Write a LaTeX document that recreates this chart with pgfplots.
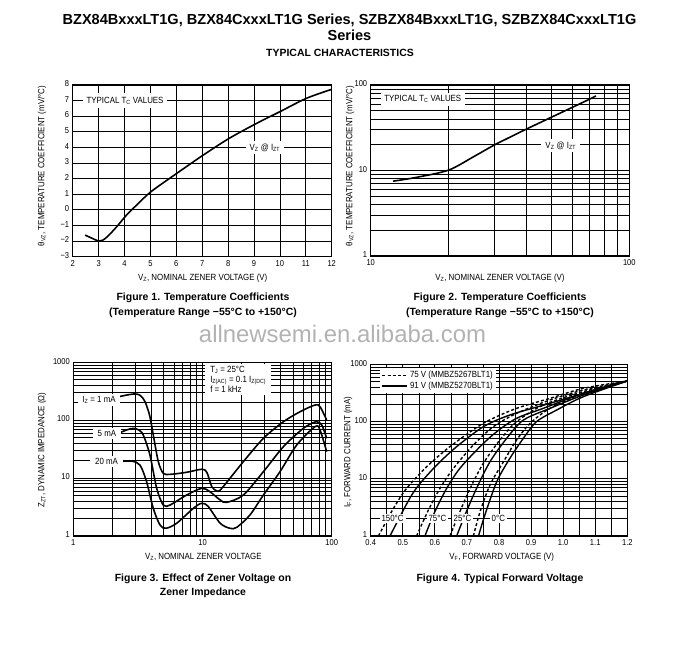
\documentclass[border=0pt]{standalone}
\usepackage{fontspec}
\setmainfont{Liberation Sans}
\newfontfamily\cf[FakeStretch=0.88]{Liberation Sans}
\usepackage{pgfplots}
\pgfplotsset{compat=1.18}
\pgfplotsset{
  ds/.style={
    scale only axis,
    axis line style={line width=1.1bp},
    grid=both,
    major grid style={line width=0.75bp, black},
    minor grid style={line width=0.6bp, black},
    major tick length=0pt, minor tick length=0pt,
    tick label style={font=\cf\fontsize{8.6}{9}\selectfont},
    typeset ticklabels with strut,
    /pgf/number format/assume math mode=true,
  },
  crv/.style={line width=1.6bp, black, smooth, no marks},
  dsh/.style={line width=1.4bp, black, smooth, no marks, dash pattern=on 3bp off 2.2bp},
  sol/.style={line width=1.4bp, black, smooth, no marks},
}
\tikzset{lbl/.style={fill=white, font=\cf\fontsize{9}{10}\selectfont, inner xsep=3bp, inner ysep=2.5bp}}
\begin{document}
\begin{tikzpicture}[x=1bp,y=1bp]
\path (0,0) rectangle (692,662);
% titles
\node[font=\bfseries\fontsize{14.6}{16}\selectfont] at (349.5,642) {BZX84BxxxLT1G, BZX84CxxxLT1G Series, SZBZX84BxxxLT1G, SZBZX84CxxxLT1G};
\node[font=\bfseries\fontsize{14.6}{16}\selectfont] at (349.5,627) {Series};
\node[font=\bfseries\fontsize{10.5}{12}\selectfont] at (340,609) {TYPICAL CHARACTERISTICS};
% watermark
\node[font=\fontsize{24}{24}\selectfont, text=black!30] at (342.5,328.5) {allnewsemi.en.alibaba.com};

% ---------------- Figure 1
\begin{axis}[ds, at={(72.7bp,405.3bp)}, anchor=south west, width=259bp, height=171.7bp,
  xmin=2, xmax=12, ymin=-3, ymax=8,
  xtick={2,3,4,5,6,7,8,9,10,11,12},
  ytick={-3,-2,-1,0,1,2,3,4,5,6,7,8},
  yticklabels={−3,−2,−1,0,1,2,3,4,5,6,7,8}]
\addplot[crv] coordinates {(2.48,-1.62) (2.75,-1.82) (3.0,-2.0) (3.15,-1.95) (3.35,-1.7) (3.7,-1.08) (4.08,-0.33) (4.47,0.31) (5.02,1.16) (6.02,2.34) (7.04,3.51) (8.04,4.58) (9.1,5.54) (10.0,6.29) (11.03,7.15) (12,7.72)};
\node[lbl, inner xsep=3.5bp, inner ysep=3.5bp] at (axis cs:4.02,7) {TYPICAL T\textsubscript{C} VALUES};
\node[lbl, inner xsep=4bp, inner ysep=3bp] at (axis cs:9.42,4) {V\textsubscript{Z} @ I\textsubscript{ZT}};
\end{axis}

% ---------------- Figure 2
\begin{axis}[ds, at={(370.7bp,406bp)}, anchor=south west, width=258.6bp, height=171bp,
  xmode=log, ymode=log, xmin=10, xmax=100, ymin=1, ymax=100,
  xtick={10,100}, xticklabels={10,100},
  minor xtick={20,30,40,50,60,70,80,90},
  ytick={1,10,100}, yticklabels={1,10,100},
  minor ytick={2,3,4,5,6,7,8,9,20,30,40,50,60,70,80,90}]
\addplot[crv] coordinates {(12.2,7.5) (15,8.3) (20,10.1) (25,14.5) (30,19.8) (35,25) (40,30.5) (50,42) (60,54.5) (70,68) (74.3,74.5)};
\node[lbl, inner xsep=3.5bp] at (axis cs:15.9,68) {TYPICAL T\textsubscript{C} VALUES};
\node[lbl, inner xsep=4bp] at (axis cs:54.3,19.5) {V\textsubscript{Z} @ I\textsubscript{ZT}};
\end{axis}

% ---------------- Figure 3
\begin{axis}[ds, at={(73.3bp,126bp)}, anchor=south west, width=258.4bp, height=173.7bp,
  xmode=log, ymode=log, xmin=1, xmax=100, ymin=1, ymax=1000,
  xtick={1,10,100}, xticklabels={1,10,100},
  minor xtick={2,3,4,5,6,7,8,9,20,30,40,50,60,70,80,90},
  ytick={1,10,100,1000}, yticklabels={1,10,100,1000},
  minor ytick={2,3,4,5,6,7,8,9,20,30,40,50,60,70,80,90,200,300,400,500,600,700,800,900}]
\addplot[crv] coordinates {(2.26,255) (2.6,272) (3.0,284) (3.3,268) (3.59,209) (3.9,120) (4.16,55.5) (4.55,19.2) (4.97,12.1) (5.6,11.6) (7.54,12.6) (9.86,14.2) (10.8,12.6) (11.8,7.1) (12.9,6.0) (13.7,6.2) (16.3,9.9) (20.7,19.2) (29.6,48.6) (42.3,94) (56.9,140) (74.3,183) (81.2,171) (91.4,100.8)};
\addplot[crv] coordinates {(2.26,60) (2.6,68) (2.91,72.4) (3.2,68) (3.48,55.5) (3.92,25) (4.42,6.66) (4.97,3.43) (5.6,3.43) (7.54,5.1) (9.86,6.66) (11.4,5.83) (13.7,4.19) (15.4,3.81) (20.7,5.1) (29.6,12.9) (42.3,34.9) (60.4,72.4) (75.6,94) (83.7,82.6) (91.4,48.6)};
\addplot[crv] coordinates {(2.26,19.2) (2.83,19.7) (3.28,16.8) (3.69,8.7) (4.16,3.0) (4.69,1.55) (5.22,1.36) (6.31,1.66) (8.49,3.0) (9.86,3.67) (11.1,3.21) (13.7,1.66) (16.3,1.36) (18.4,1.41) (23.3,2.31) (29.6,5.1) (39.8,12.9) (53.6,37.3) (74.3,77.3) (81.2,67.7) (91.4,28.6)};
\node[lbl, inner xsep=4bp] at (axis cs:1.58,223) {I\textsubscript{Z} = 1 mA};
\node[lbl, inner xsep=5bp] at (axis cs:1.82,59) {5 mA};
\node[lbl, inner xsep=5bp] at (axis cs:1.81,19.4) {20 mA};
\node[lbl, anchor=north west, align=left, font=\cf\fontsize{9}{9.8}\selectfont, inner xsep=5bp, inner ysep=3bp] at (rel axis cs:0.51,0.993) {T\textsubscript{J} = 25°C\\I\textsubscript{Z(AC)} = 0.1 I\textsubscript{Z(DC)}\\f = 1 kHz};
\end{axis}

% ---------------- Figure 4
\begin{axis}[ds, at={(370.7bp,126bp)}, anchor=south west, width=256.6bp, height=171.7bp,
  ymode=log, xmin=0.4, xmax=1.2, ymin=1, ymax=1000,
  xtick={0.4,0.5,0.6,0.7,0.8,0.9,1.0,1.1,1.2},
  xticklabels={0.4,0.5,0.6,0.7,0.8,0.9,1.0,1.1,1.2},
  minor xtick={0.45,0.55,0.65,0.75,0.85,0.95,1.05,1.15},
  ytick={1,10,100,1000}, yticklabels={1,10,100,1000},
  minor ytick={2,3,4,5,6,7,8,9,20,30,40,50,60,70,80,90,200,300,400,500,600,700,800,900},
  legend style={at={(rel axis cs:0.036,0.98)}, anchor=north west, draw=none, fill=white,
    font=\cf\fontsize{9}{10}\selectfont, inner sep=1.5bp, row sep=-1.5bp},
  legend cell align=left,
  legend image code/.code={\draw[#1] (0bp,0bp) -- (25bp,0bp);}]
\addplot[dsh] coordinates {(0.424,1) (0.471,3.04) (0.512,6.8) (0.575,16.3) (0.647,36.4) (0.751,93) (0.855,170) (0.959,254) (1.063,380) (1.2,511)};
\addlegendentry{75 V (MMBZ5267BLT1)}
\addplot[sol] coordinates {(0.460,1) (0.502,2.85) (0.528,5.2) (0.554,8.3) (0.606,17.4) (0.668,36.4) (0.751,81) (0.834,130) (0.959,208) (1.063,311) (1.2,511)};
\addlegendentry{91 V (MMBZ5270BLT1)}
\addplot[dsh, forget plot] coordinates {(0.543,1) (0.58,2.85) (0.616,6.8) (0.658,15.2) (0.72,38.9) (0.782,81) (0.855,139) (0.959,238) (1.063,355) (1.2,511)};
\addplot[sol, forget plot] coordinates {(0.569,1) (0.6,2.66) (0.637,6.8) (0.678,15.2) (0.741,36.4) (0.793,66.5) (0.855,114) (0.938,170) (1.063,311) (1.2,511)};
\addplot[dsh, forget plot] coordinates {(0.647,1) (0.678,2.66) (0.71,6.8) (0.751,18.6) (0.803,47.6) (0.855,99.5) (0.938,194) (1.063,333) (1.2,511)};
\addplot[sol, forget plot] coordinates {(0.668,1) (0.694,2.33) (0.73,6.8) (0.772,19.9) (0.824,50.9) (0.876,106) (0.959,170) (1.063,291) (1.2,511)};
\addplot[dsh, forget plot] coordinates {(0.72,1) (0.741,2.66) (0.772,7.8) (0.814,19.9) (0.855,47.6) (0.897,93) (0.959,170) (1.063,311) (1.2,511)};
\addplot[sol, forget plot] coordinates {(0.736,1) (0.756,2.33) (0.793,8.9) (0.834,22.8) (0.876,50.9) (0.917,99.5) (0.98,159) (1.063,272) (1.2,511)};
\node[lbl, inner xsep=2bp, inner ysep=1.5bp] at (axis cs:0.468,2) {150°C};
\node[lbl, inner xsep=2bp, inner ysep=1.5bp] at (axis cs:0.608,2) {75°C};
\node[lbl, inner xsep=1.5bp, inner ysep=1.5bp] at (axis cs:0.686,2) {25°C};
\node[lbl, inner xsep=2bp, inner ysep=1.5bp] at (axis cs:0.798,2) {0°C};
\end{axis}

% axis labels
\node[font=\cf\fontsize{9}{10}\selectfont, rotate=90] at (42,496) {θ\textsubscript{VZ}, TEMPERATURE COEFFICIENT (mV/°C)};
\node[font=\cf\fontsize{9}{10}\selectfont] at (202.7,383.7) {V\textsubscript{Z}, NOMINAL ZENER VOLTAGE (V)};
\node[font=\cf\fontsize{9}{10}\selectfont, rotate=90] at (350,496) {θ\textsubscript{VZ}, TEMPERATURE COEFFICIENT (mV/°C)};
\node[font=\cf\fontsize{9}{10}\selectfont] at (500,383.7) {V\textsubscript{Z}, NOMINAL ZENER VOLTAGE (V)};
\node[font=\cf\fontsize{9}{10}\selectfont, rotate=90] at (42,212) {Z\textsubscript{ZT}, DYNAMIC IMPEDANCE (Ω)};
\node[font=\cf\fontsize{9}{10}\selectfont] at (203.3,104.7) {V\textsubscript{Z}, NOMINAL ZENER VOLTAGE};
\node[font=\cf\fontsize{9}{10}\selectfont, rotate=90] at (348,210) {I\textsubscript{F}, FORWARD CURRENT (mA)};
\node[font=\cf\fontsize{9}{10}\selectfont] at (501.7,104.7) {V\textsubscript{F}, FORWARD VOLTAGE (V)};
% captions
\node[font=\bfseries\fontsize{10.5}{12}\selectfont] at (203,364) {Figure 1. Temperature Coefficients};
\node[font=\bfseries\fontsize{10.5}{12}\selectfont] at (203,349) {(Temperature Range −55°C to +150°C)};
\node[font=\bfseries\fontsize{10.5}{12}\selectfont] at (500,364) {Figure 2. Temperature Coefficients};
\node[font=\bfseries\fontsize{10.5}{12}\selectfont] at (500,349) {(Temperature Range −55°C to +150°C)};
\node[font=\bfseries\fontsize{10.5}{12}\selectfont] at (203,83) {Figure 3. Effect of Zener Voltage on};
\node[font=\bfseries\fontsize{10.5}{12}\selectfont] at (203,69) {Zener Impedance};
\node[font=\bfseries\fontsize{10.5}{12}\selectfont] at (500,83) {Figure 4. Typical Forward Voltage};
\end{tikzpicture}
\end{document}
